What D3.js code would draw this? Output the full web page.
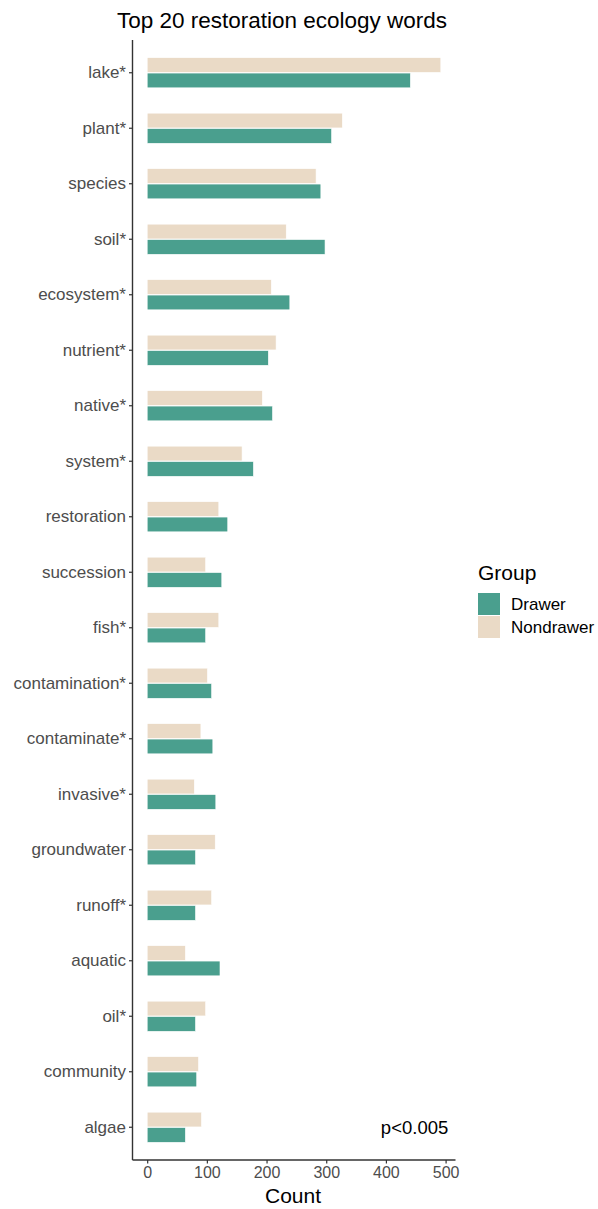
<!DOCTYPE html>
<html>
<head>
<meta charset="utf-8">
<script src="https://cdn.jsdelivr.net/npm/d3@7"></script>
<style>
  html, body { margin: 0; padding: 0; background: #fff; }
  svg { display: block; font-family: "Liberation Sans", Arial, sans-serif; }
</style>
</head>
<body>
<svg id="chart" width="598" height="1209"></svg>
<script>
// Word frequencies per group, top to bottom
const words = ["lake*", "plant*", "species", "soil*", "ecosystem*", "nutrient*", "native*",
  "system*", "restoration", "succession", "fish*", "contamination*", "contaminate*",
  "invasive*", "groundwater", "runoff*", "aquatic", "oil*", "community", "algae"];
const drawer =    [441, 309, 291, 298, 239, 203, 210, 178, 135, 125, 98, 108, 110, 115, 81, 81, 122, 81, 83, 64];
const nondrawer = [492, 327, 283, 233, 208, 216, 193, 159, 120, 98, 120, 101, 90, 79, 114, 108, 64, 98, 86, 91];
const groups = ["Drawer", "Nondrawer"];
const groupColors = ["#4a9f8e", "#eadac6"];
const xTicks = [0, 100, 200, 300, 400, 500];

const svg = d3.select("#chart");
const panel = { left: 132.5, right: 455.5, top: 40, bottom: 1160 };

const maxVal = d3.max([...drawer, ...nondrawer]);
const pad = maxVal * 0.05;
const x = d3.scaleLinear().domain([-pad, maxVal + pad]).range([panel.left, panel.right]);

const y = d3.scaleBand().domain(words).range([panel.top, panel.bottom])
  .paddingInner(0.434).paddingOuter(0.307);
// Nondrawer sits above Drawer within each word's slot
const yInner = d3.scaleBand().domain(["Nondrawer", "Drawer"]).range([0, y.bandwidth()]).padding(0.04);
const color = d3.scaleOrdinal().domain(groups).range(groupColors);

const rows = [];
words.forEach((w, i) => {
  rows.push({ word: w, group: "Nondrawer", value: nondrawer[i] });
  rows.push({ word: w, group: "Drawer", value: drawer[i] });
});

// Bars
svg.append("g").selectAll("rect").data(rows).join("rect")
  .attr("x", x(0))
  .attr("y", d => y(d.word) + yInner(d.group))
  .attr("width", d => x(d.value) - x(0))
  .attr("height", yInner.bandwidth())
  .attr("fill", d => color(d.group))
  .attr("stroke", "#ffffff")
  .attr("stroke-width", 0.6);

// Y axis
const yAxis = svg.append("g").attr("transform", `translate(${panel.left},0)`)
  .call(d3.axisLeft(y).tickSize(3.5).tickPadding(3));
yAxis.select(".domain").attr("stroke", "#333").attr("stroke-width", 1.4)
  .attr("d", `M0,${panel.top}V${panel.bottom}`);
yAxis.selectAll(".tick line").attr("stroke", "#333").attr("stroke-width", 1.2);
yAxis.selectAll(".tick text").attr("fill", "#4d4d4d").style("font-size", "17px");

// X axis
const xAxis = svg.append("g").attr("transform", `translate(0,${panel.bottom})`)
  .call(d3.axisBottom(x).tickValues(xTicks).tickSize(3.5).tickPadding(3));
xAxis.select(".domain").attr("stroke", "#333").attr("stroke-width", 1.4)
  .attr("d", `M${panel.left},0H${panel.right}`);
xAxis.selectAll(".tick line").attr("stroke", "#333").attr("stroke-width", 1.2);
xAxis.selectAll(".tick text").attr("fill", "#4d4d4d").style("font-size", "16px");

// Axis title
svg.append("text").attr("x", 293).attr("y", 1203)
  .attr("text-anchor", "middle").style("font-size", "21px").attr("fill", "#000")
  .text("Count");

// Chart title
svg.append("text").attr("x", 282).attr("y", 28)
  .attr("text-anchor", "middle").style("font-size", "22.5px").attr("fill", "#000")
  .text("Top 20 restoration ecology words");

// Significance note
svg.append("text").attr("x", x(448)).attr("y", y("algae") + y.bandwidth() / 2 + 7)
  .attr("text-anchor", "middle").style("font-size", "18.5px").attr("fill", "#000")
  .text("p<0.005");

// Legend
const legend = svg.append("g").attr("transform", "translate(478,560)");
legend.append("text").attr("x", 0).attr("y", 20).style("font-size", "21px").attr("fill", "#000").text("Group");
groups.forEach((g, i) => {
  const gy = 33 + i * 23;
  legend.append("rect").attr("x", 0).attr("y", gy).attr("width", 22).attr("height", 22)
    .attr("fill", color(g));
  legend.append("text").attr("x", 33).attr("y", gy + 17).style("font-size", "17px")
    .attr("fill", "#000").text(g);
});
</script>
</body>
</html>
